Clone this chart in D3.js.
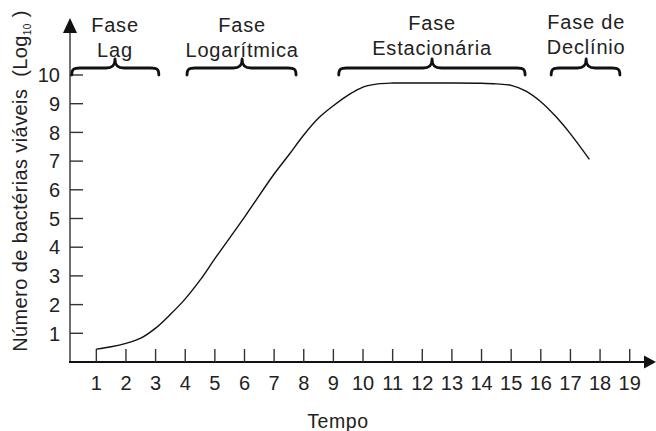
<!DOCTYPE html>
<html>
<head>
<meta charset="utf-8">
<script src="https://cdn.jsdelivr.net/npm/d3@7"></script>
<style>
  body { margin: 0; background: #fff; }
  text { font-family: "Liberation Sans", Arial, sans-serif; fill: #222; }
</style>
</head>
<body>
<script>
// curva de crescimento bacteriano
var tempo  = [1, 1.5, 2, 2.5, 3, 3.5, 4, 4.5, 5, 6, 7, 7.5, 8, 8.5, 9, 9.5, 10, 10.5, 11, 12, 13, 14, 14.5, 15, 15.5, 16, 16.5, 17, 17.64];
var logUfc = [0.45, 0.53, 0.65, 0.83, 1.18, 1.66, 2.2, 2.85, 3.6, 5.05, 6.55, 7.22, 7.91, 8.5, 8.93, 9.3, 9.58, 9.69, 9.72, 9.72, 9.72, 9.71, 9.69, 9.64, 9.44, 9.07, 8.56, 7.95, 7.06];

var xTicks = d3.range(1, 20);
var yTicks = d3.range(1, 11);

// fases: nome (duas linhas), inicio, pico e fim da chave (em unidades de tempo)
var faseLinha1 = ["Fase", "Fase", "Fase", "Fase de"];
var faseLinha2 = ["Lag", "Logarítmica", "Estacionária", "Declínio"];
var faseInicio = [0.17, 4.06, 9.18, 16.35];
var fasePico   = [1.63, 5.92, 12.33, 17.53];
var faseFim    = [3.11, 7.74, 15.47, 18.67];

var W = 656, H = 431;
var svg = d3.select("body").append("svg").attr("width", W).attr("height", H);

var x = d3.scaleLinear().domain([0, 19]).range([66.7, 629.7]);
var y = d3.scaleLinear().domain([0, 10]).range([362, 75]);
var x0 = 70;

// eixo y
svg.append("line").attr("x1", x0).attr("x2", x0).attr("y1", 363).attr("y2", 30)
  .attr("stroke", "#333").attr("stroke-width", 1.4);
svg.append("path").attr("d", "M" + x0 + ",18 L" + (x0 - 7) + ",33 L" + (x0 + 7) + ",33 Z").attr("fill", "#111");

svg.selectAll(".ytick").data(yTicks).enter().append("line")
  .attr("x1", x0).attr("x2", x0 + 13)
  .attr("y1", function(d){ return y(d); }).attr("y2", function(d){ return y(d); })
  .attr("stroke", "#333").attr("stroke-width", 1.4);
svg.selectAll(".ylab").data(yTicks).enter().append("text")
  .attr("x", 60).attr("y", function(d){ return y(d); })
  .attr("dy", "0.36em").attr("text-anchor", "end")
  .style("font-size", "20px")
  .text(function(d){ return d; });

// eixo x
svg.append("line").attr("x1", x0 - 1).attr("x2", 646).attr("y1", 362).attr("y2", 362)
  .attr("stroke", "#111").attr("stroke-width", 2.2);
svg.append("path").attr("d", "M656,362 L644,355.5 L644,368.5 Z").attr("fill", "#111");

svg.selectAll(".xtick").data(xTicks).enter().append("line")
  .attr("x1", function(d){ return x(d); }).attr("x2", function(d){ return x(d); })
  .attr("y1", 362).attr("y2", 349)
  .attr("stroke", "#333").attr("stroke-width", 1.4);
svg.selectAll(".xlab").data(xTicks).enter().append("text")
  .attr("x", function(d){ return x(d); }).attr("y", 390)
  .attr("text-anchor", "middle")
  .style("font-size", "20px")
  .text(function(d){ return d; });

svg.append("text").attr("x", 338).attr("y", 428).attr("text-anchor", "middle")
  .style("font-size", "19.5px").style("letter-spacing", "0.6px")
  .text("Tempo");

// titulo do eixo y
var yt = svg.append("text").attr("transform", "translate(27,181) rotate(-90)")
  .attr("text-anchor", "middle")
  .style("font-size", "20px").style("letter-spacing", "0.4px");
yt.append("tspan").text("Número de bactérias viáveis\u00a0 (Log");
yt.append("tspan").attr("dy", 4).style("font-size", "10px").text("10");
yt.append("tspan").attr("dy", -4).text("\u00a0)");

// curva
var pts = tempo.map(function(t, i){ return [t, logUfc[i]]; });
svg.append("path").datum(pts)
  .attr("d", d3.line().x(function(d){ return x(d[0]); }).y(function(d){ return y(d[1]); }).curve(d3.curveCatmullRom))
  .attr("fill", "none").attr("stroke", "#111").attr("stroke-width", 1.4);

// chaves das fases
function chave(a, p, b) {
  var yb = 75, yh = 68, yp = 59;
  return "M" + a + "," + yb +
    " C" + a + "," + (yh + 1) + " " + (a + 2) + "," + yh + " " + (a + 8) + "," + yh +
    " L" + (p - 9) + "," + yh +
    " C" + (p - 3) + "," + yh + " " + p + "," + (yh - 2) + " " + p + "," + yp +
    " C" + p + "," + (yh - 2) + " " + (p + 3) + "," + yh + " " + (p + 9) + "," + yh +
    " L" + (b - 8) + "," + yh +
    " C" + (b - 2) + "," + yh + " " + b + "," + (yh + 1) + " " + b + "," + yb;
}
var baseFase = [31.5, 31.5, 30, 28.5];
faseLinha1.forEach(function(l1, i){
  svg.append("path").attr("d", chave(x(faseInicio[i]), x(fasePico[i]), x(faseFim[i])))
    .attr("fill", "none").attr("stroke", "#111").attr("stroke-width", 2.8)
    .attr("stroke-linecap", "round").attr("stroke-linejoin", "round");
  var cx = x(fasePico[i]);
  svg.append("text").attr("x", cx).attr("y", baseFase[i]).attr("text-anchor", "middle")
    .style("font-size", "20px").style("letter-spacing", "0.8px").text(l1);
  svg.append("text").attr("x", cx).attr("y", baseFase[i] + 25).attr("text-anchor", "middle")
    .style("font-size", "20px").style("letter-spacing", "0.8px").text(faseLinha2[i]);
});
</script>
</body>
</html>
